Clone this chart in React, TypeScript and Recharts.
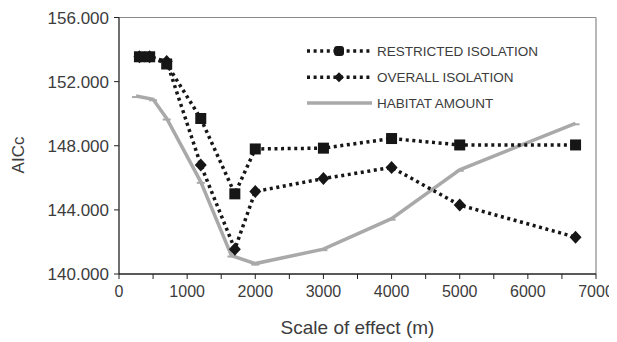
import { LineChart, Line, XAxis, YAxis, ReferenceLine, Label } from 'recharts';

// Scale of effect (m) and AICc per model
const restrictedScale = [300, 450, 700, 1200, 1700, 2000, 3000, 4000, 5000, 6700];
const restrictedAicc = [153.55, 153.55, 153.1, 149.7, 145.0, 147.8, 147.85, 148.45, 148.05, 148.05];

const overallScale = [300, 450, 700, 1200, 1700, 2000, 3000, 4000, 5000, 6700];
const overallAicc = [153.55, 153.55, 153.25, 146.8, 141.55, 145.15, 145.95, 146.65, 144.3, 142.3];

const habitatScale = [250, 500, 700, 1200, 1650, 2000, 3000, 4000, 5000, 6700];
const habitatAicc = [151.1, 150.9, 149.7, 145.75, 141.15, 140.65, 141.55, 143.45, 146.5, 149.4];

const xTicks = [0, 500, 1000, 1500, 2000, 2500, 3000, 3500, 4000, 4500, 5000, 5500, 6000, 6500, 7000];
const yTicks = [140, 144, 148, 152, 156];

const seriesNames = ['RESTRICTED ISOLATION', 'OVERALL ISOLATION', 'HABITAT AMOUNT'];

const toRows = (xs: number[], ys: number[]) => xs.map((x, i) => ({ scale: x, aicc: ys[i] }));

const restricted = toRows(restrictedScale, restrictedAicc);
const overall = toRows(overallScale, overallAicc);
const habitat = toRows(habitatScale, habitatAicc);

const FONT = '"Liberation Sans", Arial, sans-serif';
const TEXT = '#3c3c3c';
const DARK = '#161616';
const GREY = '#a9a9a9';
const DOTS = '3 3.6';

const Square = (p: any) => (
    <rect key={p.key} x={p.cx - 5.5} y={p.cy - 5.5} width={11} height={11} fill={DARK} />
);
const Diamond = (p: any) => (
    <polygon
        key={p.key}
        points={`${p.cx},${p.cy - 6.5} ${p.cx + 6},${p.cy} ${p.cx},${p.cy + 6.5} ${p.cx - 6},${p.cy}`}
        fill={DARK}
    />
);
const Dash = (p: any) => (
    <line key={p.key} x1={p.cx - 4} x2={p.cx + 4} y1={p.cy + 1} y2={p.cy + 1} stroke={GREY} strokeWidth={2} />
);

function LegendBox() {
    const rows = [0, 26.3, 52];
    return (
        <svg width={260} height={70} style={{ overflow: 'visible', display: 'block' }}>
            {seriesNames.map((name, i) => (
                <g key={name} transform={`translate(0, ${rows[i] + 8})`}>
                    {i < 2 ? (
                        <line x1={0} x2={65} y1={0} y2={0} stroke={DARK} strokeWidth={3.5} strokeDasharray={DOTS} />
                    ) : (
                        <line x1={0} x2={65} y1={0} y2={0} stroke={GREY} strokeWidth={3.5} />
                    )}
                    {i === 0 && <rect x={27} y={-5} width={10} height={10} rx={3} fill={DARK} />}
                    {i === 1 && <polygon points="32,-5 37,0 32,5 27,0" fill={DARK} />}
                    <text x={70} y={0} dominantBaseline="central" fontSize={13.5} fill={TEXT} fontFamily={FONT}>
                        {name}
                    </text>
                </g>
            ))}
        </svg>
    );
}

export default function App() {
    return (
        <div style={{ position: 'relative', width: 609, height: 334 }}>
            <LineChart width={609} height={334} margin={{ top: 9.5, right: 21, bottom: 8, left: 0 }}>
                <XAxis
                    type="number"
                    dataKey="scale"
                    domain={[0, 7000]}
                    ticks={xTicks}
                    tickFormatter={(v: number) => (v % 1000 === 0 ? String(v) : '')}
                    axisLine={{ stroke: '#222', strokeWidth: 1.3 }}
                    tickLine={{ stroke: '#222' }}
                    tickSize={5}
                    tickMargin={7}
                    height={60}
                    tick={{ fontSize: 16, fill: TEXT, fontFamily: FONT }}
                    allowDuplicatedCategory={false}
                >
                    <Label
                        content={() => (
                            <text x={349.5} y={319} textAnchor="middle" dominantBaseline="central" fontSize={19} fill={TEXT} fontFamily={FONT}>
                                Scale of effect (m)
                            </text>
                        )}
                    />
                </XAxis>
                <YAxis
                    type="number"
                    domain={[140, 156]}
                    ticks={yTicks}
                    tickFormatter={(v: number) => v.toFixed(3)}
                    axisLine={{ stroke: '#222', strokeWidth: 1.3 }}
                    tickLine={{ stroke: '#222' }}
                    tickSize={5}
                    tickMargin={5}
                    width={111}
                    tick={{ fontSize: 17, fill: TEXT, fontFamily: FONT }}
                >
                    <Label
                        content={() => (
                            <text
                                x={10}
                                y={147}
                                transform="rotate(-90 10 147)"
                                textAnchor="middle"
                                dominantBaseline="central"
                                fontSize={17}
                                fill={TEXT}
                                fontFamily={FONT}
                            >
                                AICc
                            </text>
                        )}
                    />
                </YAxis>
                <ReferenceLine y={156} stroke="#8a8a8a" strokeWidth={1.2} />
                <ReferenceLine x={7000} stroke="#8a8a8a" strokeWidth={1.2} />
                <Line
                    data={habitat}
                    dataKey="aicc"
                    name={seriesNames[2]}
                    stroke={GREY}
                    strokeWidth={3.5}
                    dot={Dash}
                    activeDot={false}
                    isAnimationActive={false}
                />
                <Line
                    data={overall}
                    dataKey="aicc"
                    name={seriesNames[1]}
                    stroke={DARK}
                    strokeWidth={3.5}
                    strokeDasharray={DOTS}
                    dot={Diamond}
                    activeDot={false}
                    isAnimationActive={false}
                />
                <Line
                    data={restricted}
                    dataKey="aicc"
                    name={seriesNames[0]}
                    stroke={DARK}
                    strokeWidth={3.5}
                    strokeDasharray={DOTS}
                    dot={Square}
                    activeDot={false}
                    isAnimationActive={false}
                />
            </LineChart>
            <div style={{ position: 'absolute', left: 298.5, top: 34.5 }}>
                <LegendBox />
            </div>
        </div>
    );
}
